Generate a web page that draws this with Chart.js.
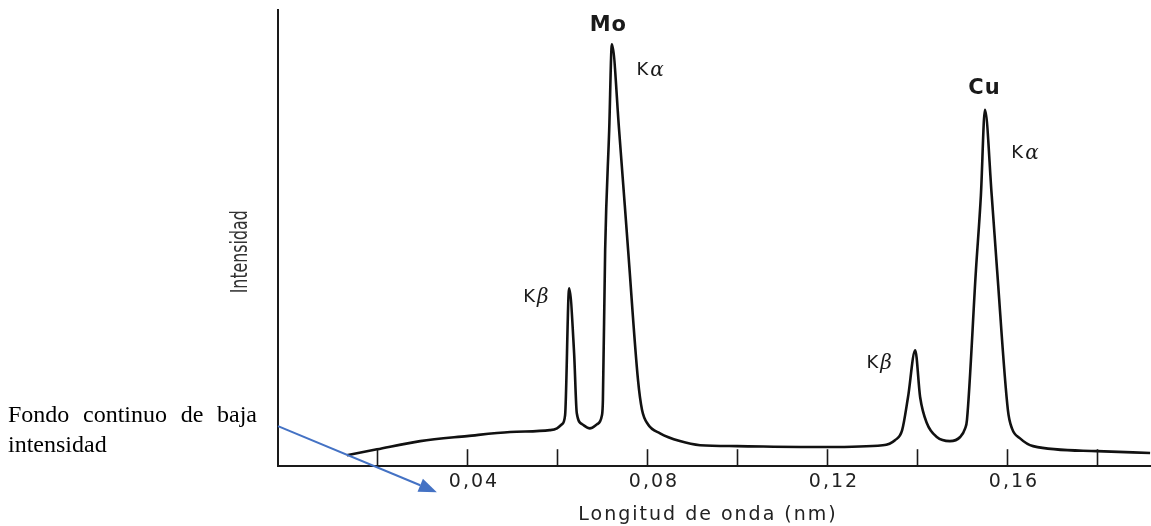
<!DOCTYPE html>
<html>
<head>
<meta charset="utf-8">
<script src="https://cdn.jsdelivr.net/npm/chart.js@4.4.0/dist/chart.umd.min.js"></script>
<style>
    html, body { margin: 0; padding: 0; background: #fff; }
    canvas { display: block; }
</style>
</head>
<body>
<canvas id="spectrum_chart" width="1151" height="526"></canvas>
<script>
// wavelength (nm) and relative intensity
var wavelength = [0.0133, 0.0200, 0.0296, 0.0400, 0.0496, 0.0584, 0.0600, 0.0611, 0.0618, 0.0627,
    0.0638, 0.0644, 0.0656, 0.0673, 0.0689, 0.0700, 0.0702, 0.0707, 0.0716, 0.0722,
    0.0738, 0.0758, 0.0780, 0.0789, 0.0802, 0.0829, 0.0873, 0.0918, 0.1000, 0.1200,
    0.1324, 0.1351, 0.1367, 0.1380, 0.1396, 0.1407, 0.1422, 0.1444, 0.1473, 0.1496,
    0.1507, 0.1511, 0.1531, 0.1542, 0.1551, 0.1566, 0.1578, 0.1602, 0.1611, 0.1629,
    0.1658, 0.1800, 0.1918];
var intensity = [2.4, 3.7, 5.5, 6.6, 7.5, 7.9, 8.3, 9.2, 11.2, 39.0,
    24.8, 11.6, 9.2, 8.3, 9.2, 11.2, 14.5, 47.4, 73.7, 92.5,
    73.7, 47.4, 18.9, 12.3, 9.2, 7.2, 5.5, 4.6, 4.4, 4.2,
    4.6, 5.7, 7.9, 15.1, 25.4, 15.1, 9.4, 6.4, 5.5, 6.4,
    8.3, 10.1, 43.0, 59.4, 78.1, 59.4, 43.0, 12.3, 8.3, 6.1,
    4.4, 3.3, 2.9];

var xLabelTicks = [0.04, 0.08, 0.12, 0.16];
var xTickMarks = [0.02, 0.04, 0.06, 0.08, 0.10, 0.12, 0.14, 0.16, 0.18];

// peak annotations (data coordinates)
var peakLabels = [
    { text: 'Mo', x: 0.0713, y: 96.5, bold: true },
    { text: 'K', greek: 'α', x: 0.0807, y: 86.8 },
    { text: 'K', greek: 'β', x: 0.0553, y: 37.1 },
    { text: 'Cu', x: 0.1549, y: 82.7, bold: true },
    { text: 'K', greek: 'α', x: 0.1640, y: 68.6 },
    { text: 'K', greek: 'β', x: 0.1316, y: 22.6 }
];

function drawPeakLabel(ctx, lab, cx, cy) {
    ctx.fillStyle = '#1a1a1a';
    ctx.textBaseline = 'middle';
    if (lab.bold) {
        ctx.letterSpacing = '1px';
        ctx.font = 'bold 21px "DejaVu Sans"';
        ctx.textAlign = 'center';
        ctx.fillText(lab.text, cx + 0.5, cy);
        ctx.letterSpacing = '0px';
        return;
    }
    ctx.textAlign = 'left';
    ctx.font = '18px "DejaVu Sans"';
    var kw = ctx.measureText(lab.text).width;
    ctx.font = 'italic 20px "DejaVu Serif"';
    var gw = ctx.measureText(lab.greek).width;
    var gap = 2;
    var x0 = cx - (kw + gap + gw) / 2;
    ctx.font = '18px "DejaVu Sans"';
    ctx.fillText(lab.text, x0, cy);
    ctx.font = 'italic 20px "DejaVu Serif"';
    ctx.fillText(lab.greek, x0 + kw + gap, cy + 1);
}

function justifyLine(ctx, words, x0, x1, y) {
    var total = 0;
    words.forEach(function (w) { total += ctx.measureText(w).width; });
    var space = (x1 - x0 - total) / (words.length - 1);
    var x = x0;
    words.forEach(function (w) {
        ctx.fillText(w, x, y);
        x += ctx.measureText(w).width + space;
    });
}

var decorations = {
    id: 'decorations',
    beforeDraw: function (chart) {
        // a little tracking for the tick labels, like the printed figure
        chart.ctx.letterSpacing = '2px';
    },
    afterDraw: function (chart) {
        var ctx = chart.ctx;
        var xs = chart.scales.x, ys = chart.scales.y;
        var area = chart.chartArea;
        ctx.save();
        ctx.letterSpacing = '0px';

        // tick marks point inwards
        ctx.strokeStyle = '#1a1a1a';
        ctx.lineWidth = 1.6;
        xTickMarks.forEach(function (v) {
            var px = Math.round(xs.getPixelForValue(v)) + 0.5;
            ctx.beginPath();
            ctx.moveTo(px, area.bottom);
            ctx.lineTo(px, area.bottom - 17);
            ctx.stroke();
        });

        peakLabels.forEach(function (lab) {
            drawPeakLabel(ctx, lab, xs.getPixelForValue(lab.x), ys.getPixelForValue(lab.y));
        });

        // axis titles
        ctx.fillStyle = '#222';
        ctx.letterSpacing = '2px';
        ctx.font = '19px "DejaVu Sans"';
        ctx.textAlign = 'center';
        ctx.textBaseline = 'middle';
        ctx.fillText('Longitud de onda (nm)', 708, area.bottom + 49);
        ctx.letterSpacing = '0px';

        ctx.save();
        ctx.translate(area.left - 37, ys.getPixelForValue(47));
        ctx.rotate(-Math.PI / 2);
        ctx.font = '23px "Liberation Sans Narrow", "DejaVu Sans Condensed", sans-serif';
        var tw = ctx.measureText('Intensidad').width;
        ctx.scale(83 / tw, 1);
        ctx.fillStyle = '#333';
        ctx.fillText('Intensidad', 0, 0);
        ctx.restore();

        // note on the background
        ctx.fillStyle = '#000';
        ctx.textAlign = 'left';
        ctx.textBaseline = 'alphabetic';
        ctx.font = '24px "Liberation Serif"';
        justifyLine(ctx, ['Fondo', 'continuo', 'de', 'baja'], 8, 257, 422);
        ctx.fillText('intensidad', 8, 452);

        // blue arrow
        var ax0 = xs.getPixelForValue(xs.min), ay0 = ys.getPixelForValue(8.8);
        var ax1 = xs.getPixelForValue(0.0333), ay1 = ys.getPixelForValue(-5.7);
        var ang = Math.atan2(ay1 - ay0, ax1 - ax0);
        var hl = 18, hw = 7;
        var bx = ax1 - hl * Math.cos(ang), by = ay1 - hl * Math.sin(ang);
        ctx.strokeStyle = '#4472C4';
        ctx.fillStyle = '#4472C4';
        ctx.lineWidth = 2;
        ctx.beginPath();
        ctx.moveTo(ax0, ay0);
        ctx.lineTo(bx, by);
        ctx.stroke();
        ctx.beginPath();
        ctx.moveTo(ax1, ay1);
        ctx.lineTo(bx + hw * Math.sin(ang), by - hw * Math.cos(ang));
        ctx.lineTo(bx - hw * Math.sin(ang), by + hw * Math.cos(ang));
        ctx.closePath();
        ctx.fill();

        ctx.restore();
    }
};

new Chart(document.getElementById('spectrum_chart').getContext('2d'), {
    type: 'line',
    data: {
        datasets: [{
            label: 'Intensidad',
            data: wavelength.map(function (w, i) { return { x: w, y: intensity[i] }; }),
            borderColor: '#111',
            borderWidth: 2.6,
            pointRadius: 0,
            fill: false,
            cubicInterpolationMode: 'monotone'
        }]
    },
    options: {
        responsive: false,
        animation: false,
        devicePixelRatio: 1,
        layout: { padding: { left: 278, top: 10, right: 0, bottom: 29 } },
        plugins: {
            legend: { display: false },
            tooltip: { enabled: false }
        },
        scales: {
            x: {
                type: 'linear',
                min: -0.002,
                max: 0.192,
                afterBuildTicks: function (scale) {
                    scale.ticks = xLabelTicks.map(function (v) { return { value: v }; });
                },
                ticks: {
                    autoSkip: false,
                    maxRotation: 0,
                    padding: 4,
                    labelOffset: 7,
                    color: '#222',
                    font: { family: 'DejaVu Sans', size: 19 },
                    callback: function (v) { return v.toFixed(2).replace('.', ','); }
                },
                grid: { display: false, drawTicks: false },
                border: { display: true, color: '#1a1a1a', width: 2 }
            },
            y: {
                min: 0,
                max: 100,
                ticks: { display: false },
                grid: { display: false, drawTicks: false },
                border: { display: true, color: '#1a1a1a', width: 2 }
            }
        }
    },
    plugins: [decorations]
});
</script>
</body>
</html>
